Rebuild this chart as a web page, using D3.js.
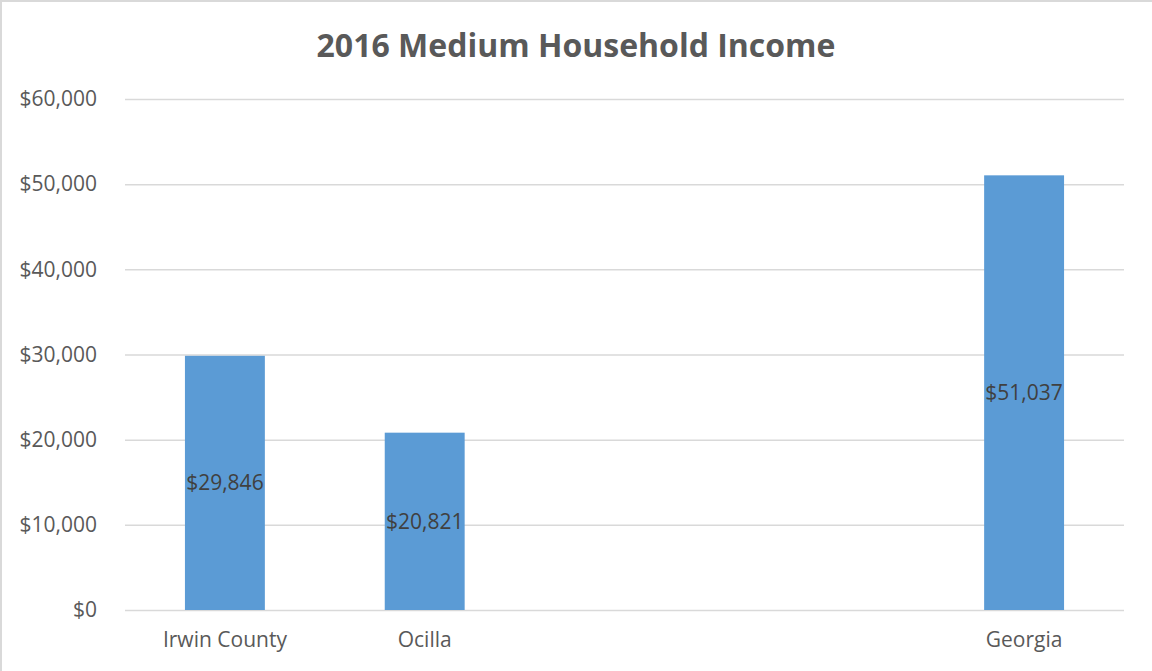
<!DOCTYPE html>
<html>
<head>
<meta charset="utf-8">
<script src="https://cdn.jsdelivr.net/npm/d3@7"></script>
<style>
    body { margin: 0; background: #fff; }
    svg { display: block; }
    .tick text { fill: #595959; }
</style>
</head>
<body>
<div id="chart"></div>
<script>
const title = "2016 Medium Household Income";
const categories = ["Irwin County", "Ocilla", "", "", "Georgia"];
const incomes = [29846, 20821, null, null, 51037];
const yTicks = [0, 10000, 20000, 30000, 40000, 50000, 60000];

const width = 1152, height = 671;
const margin = { top: 99, right: 28, bottom: 61, left: 125 };
const innerW = width - margin.left - margin.right;
const innerH = height - margin.top - margin.bottom;
const fontSize = 21;

const svg = d3.select("#chart").append("svg")
    .attr("width", width)
    .attr("height", height);

// chart border (only left/top fall inside the picture)
svg.append("rect")
    .attr("x", 1).attr("y", 1)
    .attr("width", width + 10).attr("height", height + 10)
    .attr("fill", "#fff")
    .attr("stroke", "#d9d9d9")
    .attr("stroke-width", 2);

svg.append("text")
    .attr("x", 576)
    .attr("y", 57)
    .attr("text-anchor", "middle")
    .attr("font-family", "Open Sans")
    .attr("font-weight", "bold")
    .attr("font-size", 32)
    .attr("fill", "#595959")
    .text(title);

const g = svg.append("g")
    .attr("transform", `translate(${margin.left}, ${margin.top})`);

const xScale = d3.scaleBand()
    .domain(categories.map((d, i) => i))
    .range([0, innerW])
    .paddingInner(0.6)
    .paddingOuter(0.3);

const yScale = d3.scaleLinear()
    .domain([0, 60000])
    .range([innerH, 0]);

// gridlines
g.append("g")
    .selectAll("line")
    .data(yTicks)
    .enter()
    .append("line")
    .attr("x1", 0).attr("x2", innerW)
    .attr("y1", (d) => yScale(d) + 0.5)
    .attr("y2", (d) => yScale(d) + 0.5)
    .attr("stroke", "#d9d9d9")
    .attr("stroke-width", 1.5);

// y axis
const yAxis = g.append("g")
    .call(d3.axisLeft(yScale)
        .tickValues(yTicks)
        .tickSize(0)
        .tickPadding(28)
        .tickFormat((d) => "$" + d3.format(",")(d)));
yAxis.select(".domain").remove();
yAxis.selectAll(".tick text")
    .attr("font-family", "Open Sans")
    .attr("font-size", fontSize);

// x axis
const xAxis = g.append("g")
    .attr("transform", `translate(0, ${innerH})`)
    .call(d3.axisBottom(xScale)
        .tickSize(0)
        .tickPadding(22)
        .tickFormat((i) => categories[i]));
xAxis.select(".domain").remove();
xAxis.selectAll(".tick text")
    .attr("font-family", "Open Sans")
    .attr("font-size", fontSize);

const barData = categories
    .map((c, i) => ({ index: i, value: incomes[i] }))
    .filter((d) => d.value !== null);

g.selectAll("rect.bar")
    .data(barData)
    .enter()
    .append("rect")
    .attr("class", "bar")
    .attr("x", (d) => xScale(d.index))
    .attr("width", xScale.bandwidth())
    .attr("y", (d) => yScale(d.value))
    .attr("height", (d) => innerH - yScale(d.value))
    .attr("fill", "#5b9bd5");

g.selectAll("text.label")
    .data(barData)
    .enter()
    .append("text")
    .attr("class", "label")
    .attr("x", (d) => xScale(d.index) + xScale.bandwidth() / 2)
    .attr("y", (d) => (yScale(d.value) + innerH) / 2)
    .attr("dy", "0.35em")
    .attr("text-anchor", "middle")
    .attr("font-family", "Open Sans")
    .attr("font-size", fontSize)
    .attr("fill", "#404040")
    .text((d) => "$" + d3.format(",")(d.value));
</script>
</body>
</html>
